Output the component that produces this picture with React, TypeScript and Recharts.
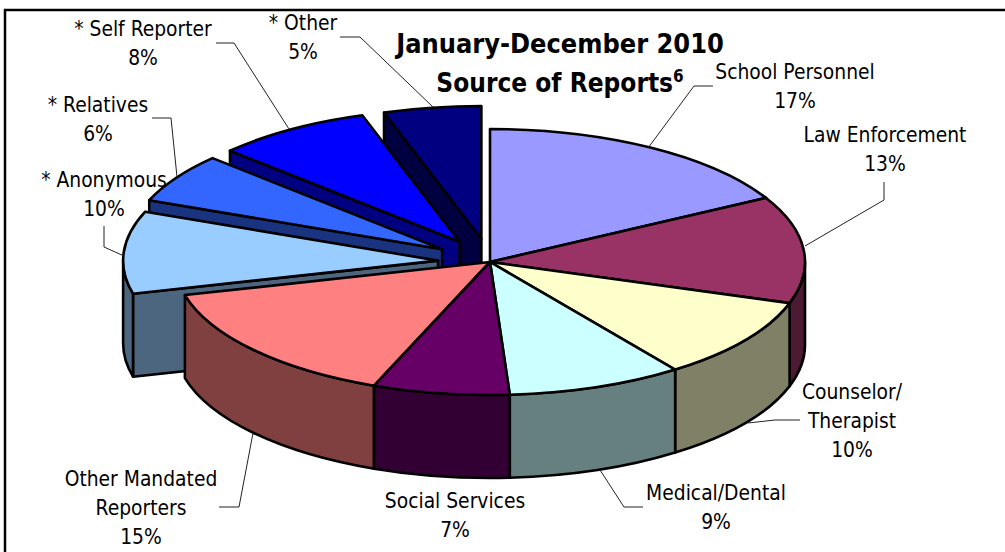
import { Pie, PieChart } from "recharts";

/* ---------- data ---------- */
const SOURCES = [
  "School Personnel",
  "Law Enforcement",
  "Counselor/\nTherapist",
  "Medical/Dental",
  "Social Services",
  "Other Mandated\nReporters",
  "* Anonymous",
  "* Relatives",
  "* Self Reporter",
  "* Other",
];
const SHARES = [17, 13, 10, 9, 7, 15, 10, 6, 8, 5];
// how far each slice is pulled out of the pie, as a fraction of the radius
const PULL_OUT = [0, 0, 0, 0, 0, 0, 0.165, 0.18, 0.18, 0.175];

const TOP_COLORS = [
  "#9999FF", "#993366", "#FFFFCC", "#CCFFFF", "#660066",
  "#FF8080", "#99CCFF", "#3366FF", "#0000FF", "#000080",
];
const WALL_COLORS = [
  "#4D4D80", "#4D1A33", "#808066", "#668080", "#330033",
  "#804040", "#4D6680", "#1A3380", "#000080", "#000040",
];

const TITLE_LINES = ["January-December 2010", "Source of Reports"];

const tableData = SOURCES.map((name, i) => ({ name, value: SHARES[i] }));

/* ---------- layout ---------- */
const WIDTH = 1005;
const HEIGHT = 552;
const CX = 490;
const CY = 262;
const RADIUS = 315;
const SQUASH = 133 / 315; // top of the pie is seen at an angle
const DEPTH = 83;
const FONT = "'DejaVu Sans Condensed', 'DejaVu Sans', sans-serif";

// back to front, so the nearer slices cover the farther ones
const PAINT_ORDER = [9, 8, 7, 6, 0, 1, 2, 3, 5, 4];

// [x of text centre, baseline of first line]
const LABEL_AT = [
  [795, 79], [885, 142], [852, 399], [716, 500], [455, 508],
  [141, 486], [104, 187], [98, 112], [143, 36], [303, 30],
];
const LEADERS = [
  "713,86 694,86 648,148",
  "884,182 884,200 805,246",
  "800,420 775,420 748,423",
  "643,507 624,507 600,470",
  "",
  "219,507 239,507 253,433",
  "104,226 104,247 124,256",
  "152,118 171,118 177,177",
  "216,43 234,43 289,129",
  "340,37 360,37 433,107",
];

/* ---------- drawing helpers ---------- */
const rad = (deg: number) => (deg * Math.PI) / 180;

function Slice(props: any) {
  const { cx, cy, outerRadius, startAngle, endAngle, index } = props;
  const rx = outerRadius;
  const ry = outerRadius * SQUASH;
  // pie angles run counter-clockwise from 3 o'clock; turn them into clockwise from 12
  const from = 90 - startAngle;
  const to = 90 - endAngle;
  const mid = (from + to) / 2;
  const shift = PULL_OUT[index];
  const ax = cx + rx * shift * Math.sin(rad(mid));
  const ay = cy - ry * shift * Math.cos(rad(mid));
  const at = (deg: number) => [ax + rx * Math.sin(rad(deg)), ay - ry * Math.cos(rad(deg))];

  const [sx, sy] = at(from);
  const [ex, ey] = at(to);
  const line = { stroke: "#000", strokeWidth: 2.6, strokeLinejoin: "round" as const };
  const wall = WALL_COLORS[index];

  const radialFace = (x: number, y: number) =>
    `M${ax},${ay} L${x},${y} L${x},${y + DEPTH} L${ax},${ay + DEPTH} Z`;

  const wallFrom = Math.max(from, 90);
  const wallTo = Math.min(to, 270);
  let outerWall = "";
  if (wallTo > wallFrom) {
    const [x1, y1] = at(wallFrom);
    const [x2, y2] = at(wallTo);
    outerWall =
      `M${x1},${y1} A${rx},${ry} 0 0 1 ${x2},${y2} L${x2},${y2 + DEPTH} ` +
      `A${rx},${ry} 0 0 0 ${x1},${y1 + DEPTH} Z`;
  }

  return (
    <g>
      {Math.sin(rad(from)) < -0.001 && <path d={radialFace(sx, sy)} fill={wall} {...line} />}
      {Math.sin(rad(to)) > 0.001 && <path d={radialFace(ex, ey)} fill={wall} {...line} />}
      {outerWall && <path d={outerWall} fill={wall} {...line} />}
      <path
        d={`M${ax},${ay} L${sx},${sy} A${rx},${ry} 0 0 1 ${ex},${ey} Z`}
        fill={TOP_COLORS[index]}
        {...line}
      />
    </g>
  );
}

function SliceLabel(props: any) {
  const { index, name, value } = props;
  const [x, y] = LABEL_AT[index];
  const lines = [...String(name).split("\n"), `${value}%`];
  return (
    <g>
      {LEADERS[index] && (
        <polyline points={LEADERS[index]} fill="none" stroke="#222" strokeWidth={1} />
      )}
      <text x={x} textAnchor="middle" fontFamily={FONT} fontSize={20.8} fill="#000">
        {lines.map((t, i) => (
          <tspan key={i} x={x} y={y + i * 29}>
            {t}
          </tspan>
        ))}
      </text>
    </g>
  );
}

export default function App() {
  return (
    <div style={{ position: "absolute", left: 0, top: 0, width: WIDTH, height: HEIGHT, background: "#fff" }}>
      <PieChart width={WIDTH} height={HEIGHT} margin={{ top: 0, right: 0, bottom: 0, left: 0 }}>
        <path d={`M5,${HEIGHT} L5,10 L${WIDTH},10`} fill="none" stroke="#000" strokeWidth={2.5} />
        {PAINT_ORDER.map((slice) => (
          <Pie
            key={slice}
            data={tableData}
            dataKey="value"
            nameKey="name"
            cx={CX}
            cy={CY}
            innerRadius={0}
            outerRadius={RADIUS}
            startAngle={90}
            endAngle={-270}
            stroke="none"
            isAnimationActive={false}
            shape={(p: any) => (p.index === slice ? <Slice {...p} /> : <g />)}
          />
        ))}
        <Pie
          data={tableData}
          dataKey="value"
          nameKey="name"
          cx={CX}
          cy={CY}
          outerRadius={RADIUS}
          startAngle={90}
          endAngle={-270}
          isAnimationActive={false}
          shape={() => <g />}
          labelLine={false}
          label={(p: any) => <SliceLabel {...p} />}
        />
        <text x={560} textAnchor="middle" fontFamily={FONT} fontWeight="bold" fill="#000">
          <tspan x={560} y={53} fontSize={26.9}>{TITLE_LINES[0]}</tspan>
          <tspan x={560} y={92} fontSize={26}>{TITLE_LINES[1]}</tspan>
          <tspan dy={-10} fontSize={17}>6</tspan>
        </text>
      </PieChart>
    </div>
  );
}
